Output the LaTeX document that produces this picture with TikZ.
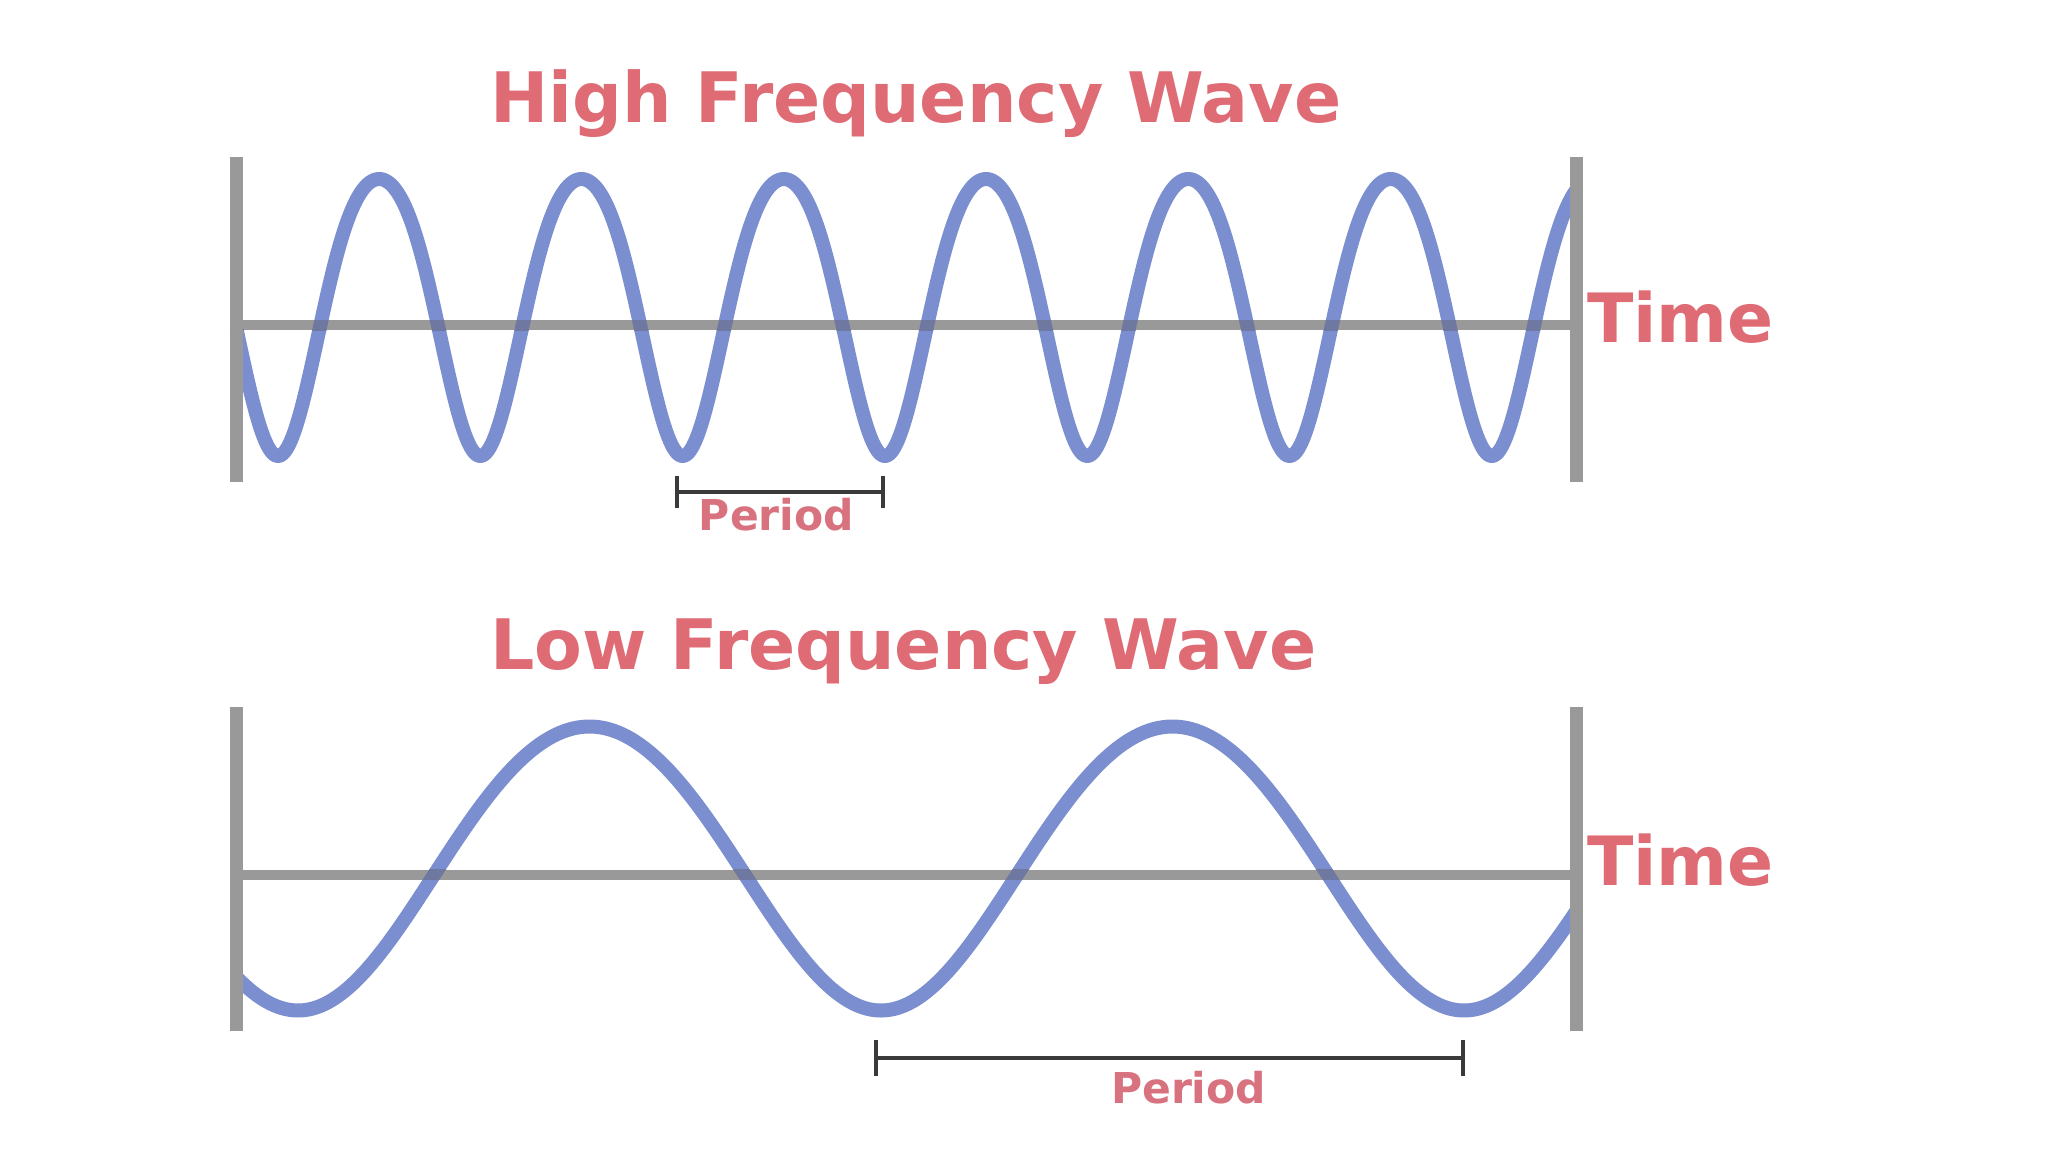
\documentclass[tikz,border=0pt]{standalone}
\usepackage{fontspec}
\setmainfont{DejaVu Sans}
\definecolor{wavecol}{HTML}{7B8ECF}
\definecolor{axisgray}{HTML}{999999}
\definecolor{overlapcol}{HTML}{6E78A0}
\definecolor{titlered}{HTML}{DF6B75}
\definecolor{periodred}{HTML}{D9727F}
\definecolor{brackcol}{HTML}{3A3A3A}
\begin{document}
\begin{tikzpicture}[x=1pt,y=-1pt,
  wave/.style={draw=wavecol,line width=14pt,line cap=butt,line join=round},
  axisline/.style={draw=axisgray,line width=10pt},
  barline/.style={draw=axisgray,line width=13pt},
  bracketline/.style={draw=brackcol,line width=4pt},
  titletext/.style={text=titlered,font=\bfseries\fontsize{69.6}{80}\selectfont,inner sep=0pt,anchor=base west},
  timetext/.style={text=titlered,font=\bfseries\fontsize{68}{80}\selectfont,inner sep=0pt,anchor=base west},
  periodtext/.style={text=periodred,font=\bfseries\fontsize{42.5}{50}\selectfont,inner sep=0pt,anchor=base}]
\useasboundingbox[fill=white] (0,0) rectangle (2048,1152);

% titles
\node[titletext] (t1) at (490,122) {High Frequency Wave};
\node[titletext] (t2) at (490,669) {Low Frequency Wave};

% frame coordinates
\coordinate (a1l) at (236.7,325);
\coordinate (a1r) at (1576.5,325);
\coordinate (a2l) at (236.7,874.5);
\coordinate (a2r) at (1576.5,874.5);
\coordinate (b1lt) at (236.7,157);
\coordinate (b1lb) at (236.7,482);
\coordinate (b1rt) at (1576.5,157);
\coordinate (b1rb) at (1576.5,482);
\coordinate (b2lt) at (236.7,706.5);
\coordinate (b2lb) at (236.7,1030.5);
\coordinate (b2rt) at (1576.5,706.5);
\coordinate (b2rb) at (1576.5,1030.5);

% waves
\def\hiwave{plot[domain=236.7:1576.5,samples=700,variable=\x]
  (\x,{317.5+138.5*(cos((\x-278)/202.3*360)+0.105*(cos((\x-278)/202.3*720)-1))})}
\def\lowave{plot[domain=236.7:1576.5,samples=400,variable=\x]
  (\x,{868.5+142*(cos((\x-298)/583*360)+0.03*(cos((\x-298)/583*720)-1))})}
\draw[wave] \hiwave;
\draw[wave] \lowave;

% time axes
\draw[axisline] (a1l) -- (a1r);
\draw[axisline] (a2l) -- (a2r);
% darker overlap where the wave crosses the axis
\begin{scope}
\clip (236.7,320) rectangle (1576.5,330);
\draw[wave,draw=overlapcol] \hiwave;
\end{scope}
\begin{scope}
\clip (236.7,869.5) rectangle (1576.5,879.5);
\draw[wave,draw=overlapcol] \lowave;
\end{scope}

% vertical bars
\draw[barline] (b1lt) -- (b1lb);
\draw[barline] (b1rt) -- (b1rb);
\draw[barline] (b2lt) -- (b2lb);
\draw[barline] (b2rt) -- (b2rb);

% time labels
\node[timetext] (time1) at (1587,342.5) {Time};
\node[timetext] (time2) at (1587,885) {Time};

% period brackets
\coordinate (p1l) at (676.6,492.4);
\coordinate (p1r) at (883,492.4);
\coordinate (p2l) at (876.4,1058);
\coordinate (p2r) at (1462.9,1058);
\draw[bracketline] (p1l) -- (p1r);
\draw[bracketline] ([yshift=-16pt]p1l) -- ([yshift=16pt]p1l);
\draw[bracketline] ([yshift=-16pt]p1r) -- ([yshift=16pt]p1r);
\draw[bracketline] (p2l) -- (p2r);
\draw[bracketline] ([yshift=-18pt]p2l) -- ([yshift=18pt]p2l);
\draw[bracketline] ([yshift=-18pt]p2r) -- ([yshift=18pt]p2r);

\node[periodtext] (per1) at (776.5,530) {Period};
\node[periodtext] (per2) at (1188.6,1103.5) {Period};
\end{tikzpicture}
\end{document}
